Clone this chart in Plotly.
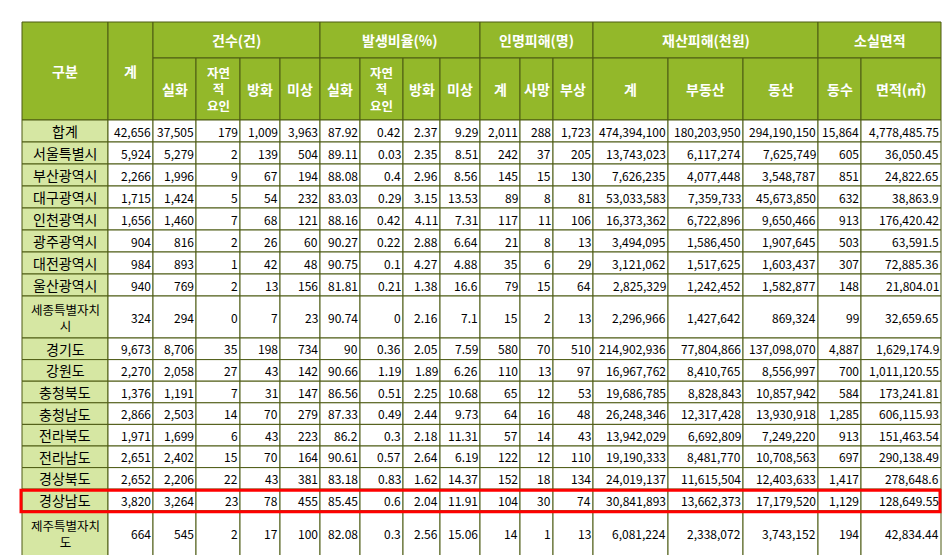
import plotly.graph_objects as go

regions = ["합계","서울특별시","부산광역시","대구광역시","인천광역시","광주광역시","대전광역시","울산광역시",
           "세종특별자치<br>시","경기도","강원도","충청북도","충청남도","전라북도","전라남도","경상북도","경상남도","제주특별자치<br>도"]
total = ["42,656","5,924","2,266","1,715","1,656","904","984","940","324","9,673","2,270","1,376","2,866","1,971","2,651","2,652","3,820","664"]
cnt_fire = ["37,505","5,279","1,996","1,424","1,460","816","893","769","294","8,706","2,058","1,191","2,503","1,699","2,402","2,206","3,264","545"]
cnt_nat = ["179","2","9","5","7","2","1","2","0","35","27","7","14","6","15","22","23","2"]
cnt_arson = ["1,009","139","67","54","68","26","42","13","7","198","43","31","70","43","70","43","78","17"]
cnt_unk = ["3,963","504","194","232","121","60","48","156","23","734","142","147","279","223","164","381","455","100"]
pct_fire = ["87.92","89.11","88.08","83.03","88.16","90.27","90.75","81.81","90.74","90","90.66","86.56","87.33","86.2","90.61","83.18","85.45","82.08"]
pct_nat = ["0.42","0.03","0.4","0.29","0.42","0.22","0.1","0.21","0","0.36","1.19","0.51","0.49","0.3","0.57","0.83","0.6","0.3"]
pct_arson = ["2.37","2.35","2.96","3.15","4.11","2.88","4.27","1.38","2.16","2.05","1.89","2.25","2.44","2.18","2.64","1.62","2.04","2.56"]
pct_unk = ["9.29","8.51","8.56","13.53","7.31","6.64","4.88","16.6","7.1","7.59","6.26","10.68","9.73","11.31","6.19","14.37","11.91","15.06"]
cas_total = ["2,011","242","145","89","117","21","35","79","15","580","110","65","64","57","122","152","104","14"]
cas_dead = ["288","37","15","8","11","8","6","15","2","70","13","12","16","14","12","18","30","1"]
cas_inj = ["1,723","205","130","81","106","13","29","64","13","510","97","53","48","43","110","134","74","13"]
prop_total = ["474,394,100","13,743,023","7,626,235","53,033,583","16,373,362","3,494,095","3,121,062","2,825,329","2,296,966","214,902,936","16,967,762","19,686,785","26,248,346","13,942,029","19,190,333","24,019,137","30,841,893","6,081,224"]
prop_real = ["180,203,950","6,117,274","4,077,448","7,359,733","6,722,896","1,586,450","1,517,625","1,242,452","1,427,642","77,804,866","8,410,765","8,828,843","12,317,428","6,692,809","8,481,770","11,615,504","13,662,373","2,338,072"]
prop_mov = ["294,190,150","7,625,749","3,548,787","45,673,850","9,650,466","1,907,645","1,603,437","1,582,877","869,324","137,098,070","8,556,997","10,857,942","13,930,918","7,249,220","10,708,563","12,403,633","17,179,520","3,743,152"]
bld = ["15,864","605","851","632","913","503","307","148","99","4,887","700","584","1,285","913","697","1,417","1,129","194"]
area = ["4,778,485.75","36,050.45","24,822.65","38,863.9","176,420.42","63,591.5","72,885.36","21,804.01","32,659.65","1,629,174.9","1,011,120.55","173,241.81","606,115.93","151,463.54","290,138.49","278,648.6","128,649.55","42,834.44"]

group_headers = ["건수(건)","발생비율(%)","인명피해(명)","재산피해(천원)","소실면적"]
sub_headers = ["실화","자연<br>적<br>요인","방화","미상","실화","자연<br>적<br>요인","방화","미상","계","사망","부상","계","부동산","동산","동수","면적(㎡)"]

columns = [total,cnt_fire,cnt_nat,cnt_arson,cnt_unk,pct_fire,pct_nat,pct_arson,pct_unk,
           cas_total,cas_dead,cas_inj,prop_total,prop_real,prop_mov,bld,area]

# layout geometry (pixels)
xe = [14,100,145,188,232,272,312,352,395,432,472,512,545,585,660,735,810,853,933]
group_span = [(2,6),(6,10),(10,13),(13,16),(16,18)]
ytop, yh1, yh2 = 14, 50, 112
row_h = [22]*8 + [42] + [21.6]*8 + [45]
ye = [yh2]
for h in row_h:
    ye.append(ye[-1]+h)

HDR = "#93b82a"; LBL = "#d6e7a3"; BORDER = "#4d5a12"
FONT = "Noto Sans CJK KR"
shapes, ann = [], []

def cell(x0, x1, y0, y1, fill, text, color="black", align="center", bold=False, size=13):
    shapes.append(dict(type="rect", xref="x", yref="y", x0=x0, x1=x1, y0=y0, y1=y1,
                       fillcolor=fill, line=dict(color=BORDER, width=1), layer="below"))
    if align == "right":
        ax, xa = x1 - 1, "right"
    else:
        ax, xa = (x0 + x1) / 2, "center"
    t = f"<b>{text}</b>" if bold else text
    ann.append(dict(x=ax, y=(y0 + y1) / 2, xref="x", yref="y", text=t, showarrow=False,
                    xanchor=xa, yanchor="middle", align="center", borderpad=0,
                    font=dict(family=FONT, size=size, color=color)))

cell(xe[0], xe[1], ytop, yh2, HDR, "구분", "white", bold=True, size=14)
cell(xe[1], xe[2], ytop, yh2, HDR, "계", "white", bold=True, size=14)
for g, (a, b) in zip(group_headers, group_span):
    cell(xe[a], xe[b], ytop, yh1, HDR, g, "white", bold=True, size=14)
for i, s in enumerate(sub_headers):
    multi = "<br>" in s
    cell(xe[i+2], xe[i+3], yh1, yh2, HDR, s, "white", bold=True, size=12.5 if multi else 14)

for r, name in enumerate(regions):
    multi = "<br>" in name
    cell(xe[0], xe[1], ye[r], ye[r+1], LBL, name, size=12.5 if multi else 14)
    for c, col in enumerate(columns):
        cell(xe[c+1], xe[c+2], ye[r], ye[r+1], "white", col[r], align="right", size=12)

# red highlight around 경상남도
hi = regions.index("경상남도")
shapes.append(dict(type="rect", xref="x", yref="y", x0=xe[0]-1, x1=xe[-1]-1, y0=ye[hi]+1, y1=ye[hi+1]+1,
                   line=dict(color="#ff0000", width=3), fillcolor="rgba(0,0,0,0)", layer="above"))

fig = go.Figure()
fig.update_layout(width=952, height=555, margin=dict(l=0, r=0, t=0, b=0),
                  paper_bgcolor="white", plot_bgcolor="white",
                  xaxis=dict(range=[0, 952], visible=False, fixedrange=True),
                  yaxis=dict(range=[555, 0], visible=False, fixedrange=True),
                  shapes=shapes, annotations=ann, showlegend=False)
fig.write_html("out.html")
